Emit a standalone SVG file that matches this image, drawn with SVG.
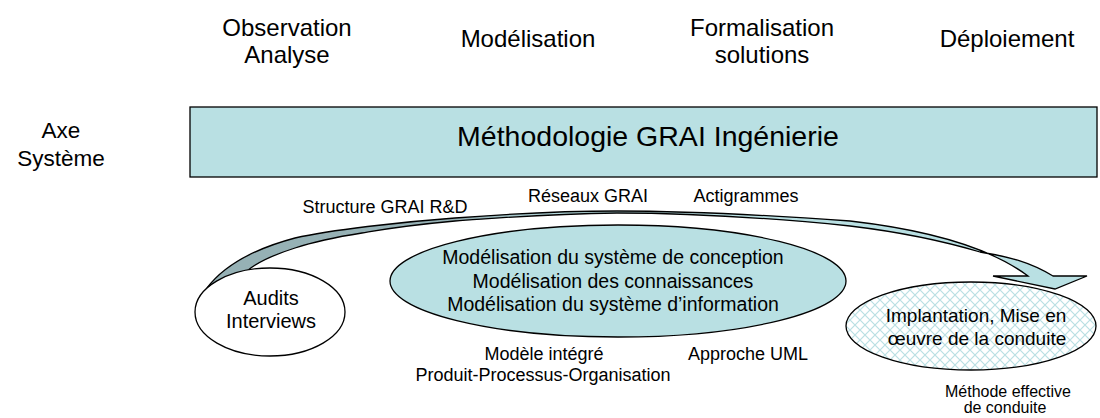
<svg xmlns="http://www.w3.org/2000/svg" width="1100" height="418" viewBox="0 0 1100 418">
<style>
text{font-family:"Liberation Sans",Arial,sans-serif;fill:#000;text-anchor:middle}
.phase{font-size:24px}
.lbl{font-size:18px}
.node{stroke:#000;stroke-width:1.3}
.ell{font-size:19.5px}
.imp{font-size:19px}
.small{font-size:16px}
</style>
<defs>
<pattern id="hatch" width="10" height="10" patternUnits="userSpaceOnUse">
<rect width="10" height="10" fill="#fff"/>
<path d="M0,0 L10,10 M10,0 L0,10" stroke="#b9dfe3" stroke-width="1.2"/>
</pattern>
<linearGradient id="band" gradientUnits="userSpaceOnUse" x1="200" y1="0" x2="1090" y2="0">
<stop offset="0" stop-color="#96b1b5"/>
<stop offset="0.3" stop-color="#96b1b5"/>
<stop offset="0.42" stop-color="#b9e0e3"/>
<stop offset="1" stop-color="#b9e0e3"/>
</linearGradient>
</defs>
<rect width="1100" height="418" fill="#fff"/>
<g id="phases">
<text class="phase" x="287" y="36">Observation</text>
<text class="phase" x="287" y="63">Analyse</text>
<text class="phase" x="528" y="47">Modélisation</text>
<text class="phase" x="762" y="36">Formalisation</text>
<text class="phase" x="762" y="63">solutions</text>
<text class="phase" x="1007" y="47">Déploiement</text>
</g>
<g id="axe">
<text style="font-size:22.5px" x="61" y="138">Axe</text>
<text style="font-size:22.5px" x="61" y="166">Système</text>
</g>
<g id="methodologie">
<rect class="node" x="190" y="107" width="907" height="70" fill="#b9e0e3"/>
<text style="font-size:28.5px" x="648" y="146">Méthodologie GRAI Ingénierie</text>
</g>
<g id="connectors">
<path class="node" fill="url(#band)" d="M207,288 C222,268 250,250 295,238 C330,230 400,222 455,218 C520,213 570,211 617,211 C700,211 780,216 850,221 C920,229 985,244 1028,276 L993,276 L1055,289 L1087,276 L1053,276 C1030,262 1010,257 980,252 C940,240 900,232 850,226 C780,219 700,213 617,213 C540,214 500,218 455,221 C400,226 380,230 362,233 C330,238 310,243 295,248 C270,256 255,264 247,271 C230,276 215,282 207,288 Z"/>
</g>
<g id="labels">
<text class="lbl" x="385" y="213">Structure GRAI R&amp;D</text>
<text class="lbl" x="588" y="202">Réseaux GRAI</text>
<text class="lbl" x="746" y="202">Actigrammes</text>
<text class="lbl" x="544" y="360">Modèle intégré</text>
<text class="lbl" x="543" y="381">Produit-Processus-Organisation</text>
<text class="lbl" x="748" y="360">Approche UML</text>
<text class="small" x="1008" y="397">Méthode effective</text>
<text class="small" x="1005" y="413">de conduite</text>
</g>
<g id="audits">
<ellipse class="node" cx="270" cy="312" rx="75" ry="44" fill="#fff"/>
<text style="font-size:20px" x="271" y="305">Audits</text>
<text style="font-size:20px" x="271" y="328">Interviews</text>
</g>
<g id="modelisation">
<ellipse class="node" cx="618" cy="281" rx="228" ry="56" fill="#b9e0e3"/>
<text class="ell" x="613" y="264">Modélisation du système de conception</text>
<text class="ell" x="613" y="288">Modélisation des connaissances</text>
<text class="ell" x="613" y="311">Modélisation du système d’information</text>
</g>
<g id="implantation">
<ellipse class="node" cx="971" cy="326" rx="125" ry="44" fill="url(#hatch)"/>
<text class="imp" x="976" y="322">Implantation, Mise en</text>
<text class="imp" x="977" y="345">œuvre de la conduite</text>
</g>
</svg>
